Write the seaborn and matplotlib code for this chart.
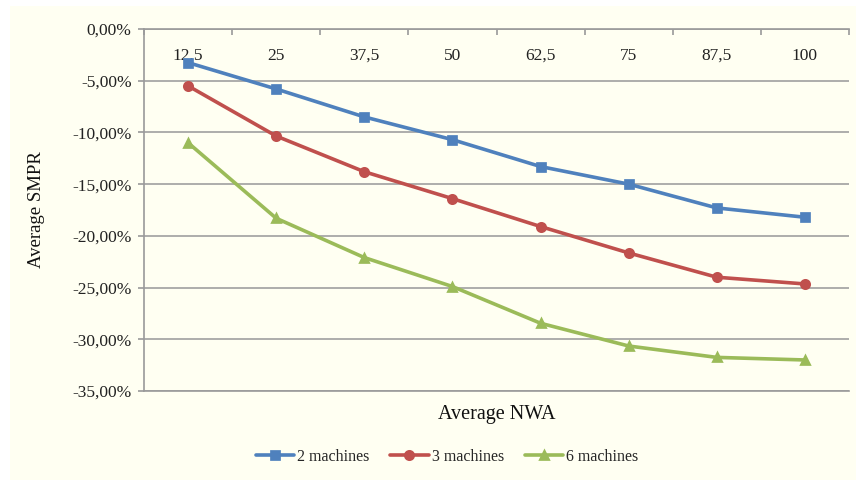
import pandas as pd
import matplotlib.pyplot as plt
import seaborn as sns
from matplotlib.ticker import FuncFormatter, FixedLocator
from matplotlib.patches import Rectangle

# data
nwa = ["12,5", "25", "37,5", "50", "62,5", "75", "87,5", "100"]
smpr_2 = [-3.25, -5.8, -8.5, -10.7, -13.3, -15.0, -17.3, -18.2]
smpr_3 = [-5.5, -10.35, -13.8, -16.4, -19.1, -21.65, -24.0, -24.65]
smpr_6 = [-11.0, -18.3, -22.1, -24.9, -28.45, -30.65, -31.75, -32.0]
series = ["2 machines", "3 machines", "6 machines"]
colors = ["#4f81bd", "#c0504d", "#9bbb59"]

df = pd.DataFrame({
    "NWA": nwa * 3,
    "SMPR": smpr_2 + smpr_3 + smpr_6,
    "serie": [s for s in series for _ in nwa],
})

sns.set_style("white")
plt.rcParams["font.family"] = ["Liberation Serif", "DejaVu Serif"]

fig = plt.figure(figsize=(8.56, 4.8), dpi=100, facecolor="white")
# cream chart area with a thin white border on left/top
fig.patches.append(Rectangle((10 / 856, 0), 1, 1 - 6 / 480, transform=fig.transFigure,
                             facecolor="#fffff2", edgecolor="none", zorder=-10))
ax = fig.add_axes([144 / 856, 89 / 480, 705 / 856, 362 / 480])
ax.set_facecolor("#fffff2")

sns.pointplot(data=df, x="NWA", y="SMPR", hue="serie", order=nwa, hue_order=series,
              palette=colors, markers=["s", "o", "^"], linestyles="-",
              errorbar=None, markersize=6, linewidth=2.6, ax=ax)

ax.set_xlim(-0.5, len(nwa) - 0.5)
ax.set_ylim(-35, 0)
ax.set_yticks(range(-35, 1, 5))
ax.yaxis.set_major_formatter(FuncFormatter(lambda v, p: f"{v:.2f}%".replace(".", ",")))
ax.yaxis.grid(True, color="#a0a0a0", linewidth=1.2)
ax.set_axisbelow(True)

for s in ["top", "bottom", "left"]:
    ax.spines[s].set_color("#9a9a9a")
    ax.spines[s].set_linewidth(1.2)
ax.spines["right"].set_visible(False)

# category labels sit just under the 0% line
ax.tick_params(axis="x", which="major", top=True, labeltop=True, bottom=False,
               labelbottom=False, length=0, pad=-25, labelsize=12.5, labelcolor="#222222")
ax.xaxis.set_minor_locator(FixedLocator([i - 0.5 for i in range(len(nwa) + 1)]))
ax.tick_params(axis="x", which="minor", top=True, bottom=False, direction="in",
               length=4, width=1.2, color="#9a9a9a")
ax.tick_params(axis="y", left=True, direction="out", length=4, width=1.2,
               color="#9a9a9a", labelsize=12.5, labelcolor="#222222", pad=5)

ax.set_xlabel("Average NWA", fontsize=14.5, color="#111111")
ax.xaxis.set_label_coords(0.5, -0.04)
ax.set_ylabel("Average SMPR", fontsize=13.5, color="#111111")
ax.yaxis.set_label_coords(-0.14, 0.5)

handles, labels = ax.get_legend_handles_labels()
ax.get_legend().remove()
fig.legend(handles, labels, loc="center", bbox_to_anchor=(447 / 856, 1 - 457 / 480),
           ncol=3, frameon=False, fontsize=11.5, handlelength=2.4, columnspacing=1.3,
           handletextpad=0.2)

fig.savefig("out.png", dpi=100, facecolor=fig.get_facecolor())
